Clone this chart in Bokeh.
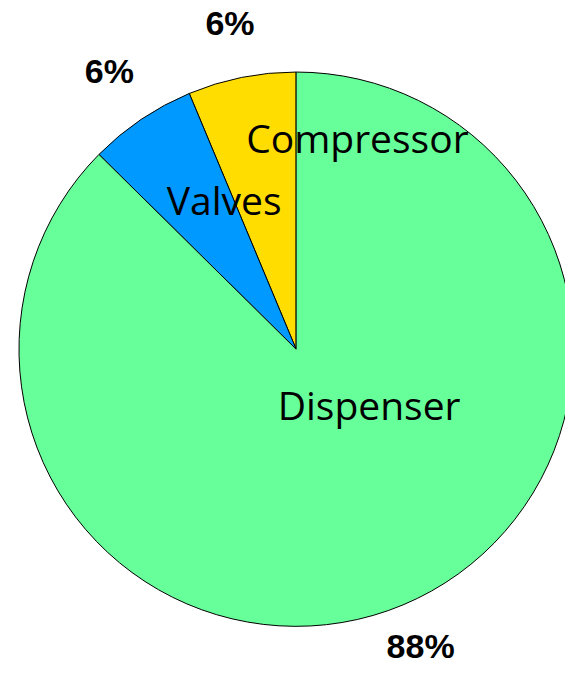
import math
from bokeh.plotting import figure
from bokeh.models import Range1d, ColumnDataSource
from bokeh.core.properties import value
from bokeh.embed import file_html
from bokeh.resources import INLINE

# Data (percent shares)
categories = ["Compressor", "Valves", "Dispenser"]
shares = [6.3, 6.3, 87.4]
pct_labels = ["6%", "6%", "88%"]
colors = ["#FFDD00", "#0099FF", "#66FF99"]

W, H = 565, 671
REF_W, REF_H = 581, 687
p = figure(width=W, height=H, output_backend="svg", toolbar_location=None,
           x_range=Range1d(0, REF_W), y_range=Range1d(-REF_H, 0),
           min_border=0, outline_line_color=None)
p.axis.visible = False
p.grid.visible = False
p.background_fill_color = "white"

cx, cy, r = 304, -357, 285
total = sum(shares)
starts, ends = [], []
acc = 0.0
for s in shares:
    a0 = math.pi / 2 + 2 * math.pi * acc / total
    acc += s
    a1 = math.pi / 2 + 2 * math.pi * acc / total
    starts.append(a0)
    ends.append(a1)

src = ColumnDataSource(dict(start=starts, end=ends, color=colors, cat=categories))
p.wedge(x=cx, y=cy, radius=r, start_angle="start", end_angle="end",
        fill_color="color", line_color="black", line_width=1, source=src)

# category labels (inside)
cat_x = [367, 230, 379]
cat_y = [-140, -204, -414]
p.text(x=cat_x, y=cat_y, text=categories, text_font=value("Open Sans"),
       text_font_size="39px", text_align="center", text_baseline="alphabetic",
       text_color="black")

# percent labels (outside)
pct_x = [236, 112, 432]
pct_y = [-23, -72, -661]
p.text(x=pct_x, y=pct_y, text=pct_labels, text_font=value("Liberation Sans"),
       text_font_size="34px", text_font_style="bold", text_align="center",
       text_baseline="alphabetic", text_color="black")

open("out.html", "w").write(file_html(p, INLINE))
